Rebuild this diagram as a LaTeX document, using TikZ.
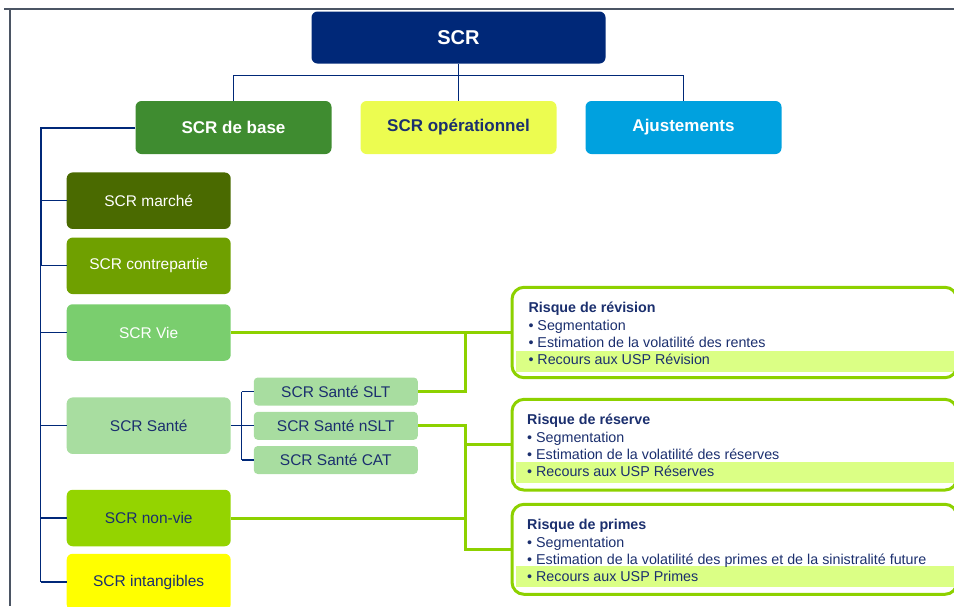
\documentclass[tikz,border=0pt]{standalone}
\usepackage{fontspec}
\setmainfont{Liberation Sans}
\definecolor{scrnavy}{RGB}{0,40,120}
\definecolor{txtnavy}{RGB}{27,47,110}
\definecolor{framegray}{RGB}{75,85,100}
\definecolor{basegreen}{RGB}{63,140,48}
\definecolor{opyellow}{RGB}{236,252,80}
\definecolor{adjblue}{RGB}{0,161,223}
\definecolor{marchec}{RGB}{74,106,0}
\definecolor{contrec}{RGB}{111,160,0}
\definecolor{viec}{RGB}{122,206,110}
\definecolor{santec}{RGB}{168,221,160}
\definecolor{nonviec}{RGB}{148,212,0}
\definecolor{intangc}{RGB}{255,255,0}
\definecolor{linkgreen}{RGB}{141,209,0}
\definecolor{bandc}{RGB}{219,255,133}
\begin{document}
\begin{tikzpicture}[x=1pt,y=-1pt,
  box/.style={rounded corners=6pt, inner sep=0pt, draw=none, align=center},
  topbox/.style={box, minimum width=196pt, minimum height=53pt,
    font=\fontsize{17}{20}\selectfont\bfseries},
  childbox/.style={box, minimum width=164pt, minimum height=56.5pt,
    font=\fontsize{15.5}{18}\selectfont},
  subbox/.style={box, rounded corners=4pt, fill=santec, text=txtnavy,
    minimum width=164pt, minimum height=28pt,
    font=\fontsize{15.5}{18}\selectfont},
  riskbox/.style={draw=linkgreen, line width=3pt, rounded corners=12pt,
    minimum width=445pt, inner sep=0pt},
  risktxt/.style={anchor=base west, inner sep=0pt, text=txtnavy,
    font=\fontsize{14.3}{16}\selectfont},
  risktitle/.style={risktxt, font=\fontsize{14.3}{16}\selectfont\bfseries},
  navyline/.style={draw=scrnavy, line width=1.1pt},
  greenline/.style={draw=linkgreen, line width=3pt},
  framepen/.style={draw=framegray, line width=2pt}]
\useasboundingbox (0,0) rectangle (954,606);
\clip (0,0) rectangle (954,606);

% page frame
\draw[framepen] (4,9.3) -- (954,9.3);
\draw[framepen] (10,9.3) -- (10,606);

% top level
\node[box, fill=scrnavy, text=white, minimum width=294pt, minimum height=52pt,
  font=\fontsize{20}{23}\selectfont\bfseries] (scr) at (458.5,37.5) {SCR};
\node[topbox, fill=basegreen, text=white] (base) at (233.5,127.5) {SCR de base};
\node[topbox, fill=opyellow, text=txtnavy] (op) at (458.5,127.5) {SCR opérationnel};
\node[topbox, fill=adjblue, text=white] (adj) at (683.5,127.5) {Ajustements};

\coordinate (bar) at (458.5,75.3);
\draw[navyline] (scr.south) -- (op.north);
\draw[navyline] (base.north) |- (bar) -| (adj.north);

% modules of the basic SCR
\node[childbox, fill=marchec, text=white] (marche) at (148.7,200.7) {SCR marché};
\node[childbox, fill=contrec, text=white] (contre) at (148.7,265.8) {SCR contrepartie};
\node[childbox, fill=viec, text=white] (vie) at (148.7,332.5) {SCR Vie};
\node[childbox, fill=santec, text=txtnavy] (sante) at (148.7,425.7) {SCR Santé};
\node[childbox, fill=nonviec, text=txtnavy] (nonvie) at (148.7,518) {SCR non-vie};
\node[childbox, fill=intangc, text=txtnavy] (intang) at (148.7,582) {SCR intangibles};

\coordinate (trunk) at (40.7,0);
\draw[navyline, line width=2pt] (base.west) -| (contre.west -| trunk);
\draw[navyline] (contre.west -| trunk) -- (intang.west -| trunk);
\foreach \n in {marche,contre,vie,sante,nonvie,intang}
  \draw[navyline] (\n.west -| trunk) -- (\n.west);

% health sub-modules
\node[subbox] (slt) at (335.8,391.5) {SCR Santé SLT};
\node[subbox] (nslt) at (335.8,425.8) {SCR Santé nSLT};
\node[subbox] (cat) at (335.8,460) {SCR Santé CAT};

\coordinate (sx) at (241.7,0);
\draw[navyline] (sante.east) -- (sante.east -| sx);
\draw[navyline] (slt.west -| sx) -- (cat.west -| sx);
\foreach \n in {slt,nslt,cat}
  \draw[navyline] (\n.west -| sx) -- (\n.west);

% risk boxes: highlighted last line, then the outline
\fill[bandc] (516,351) rectangle (957,371.7);
\fill[bandc] (516,461.7) rectangle (957,482.7);
\fill[bandc] (516,566) rectangle (957,587.3);
\node[riskbox, minimum height=90.4pt] (rev) at (734.5,332.5) {};
\node[riskbox, minimum height=90.7pt] (res) at (734.5,444.7) {};
\node[riskbox, minimum height=90pt] (prim) at (734.5,549.3) {};

\node[risktitle] (revt) at (528.3,312.3) {Risque de révision};
\node[risktxt] (rev1) at (528.3,330) {• Segmentation};
\node[risktxt] (rev2) at (528.3,347.3) {• Estimation de la volatilité des rentes};
\node[risktxt] (rev3) at (528.3,364.3) {• Recours aux USP Révision};

\node[risktitle] (rest) at (527,424.3) {Risque de réserve};
\node[risktxt] (res1) at (527,442) {• Segmentation};
\node[risktxt] (res2) at (527,459.3) {• Estimation de la volatilité des réserves};
\node[risktxt] (res3) at (527,476.3) {• Recours aux USP Réserves};

\node[risktitle] (primt) at (527,529.3) {Risque de primes};
\node[risktxt] (prim1) at (527,547) {• Segmentation};
\node[risktxt] (prim2) at (527,564) {• Estimation de la volatilité des primes et de la sinistralité future};
\node[risktxt] (prim3) at (527,581) {• Recours aux USP Primes};

% green links to the risk boxes
\coordinate (gx) at (465.5,0);
\draw[greenline] (vie.east) -- (rev.west);
\draw[greenline] (slt.east) -| (vie.east -| gx);
\draw[greenline] (nslt.east) -| (res.west -| gx) -- (res.west);
\draw[greenline] (res.west -| gx) -- (prim.west -| gx) -- (prim.west);
\draw[greenline] (nonvie.east) -- (nonvie.east -| gx);
\end{tikzpicture}
\end{document}
